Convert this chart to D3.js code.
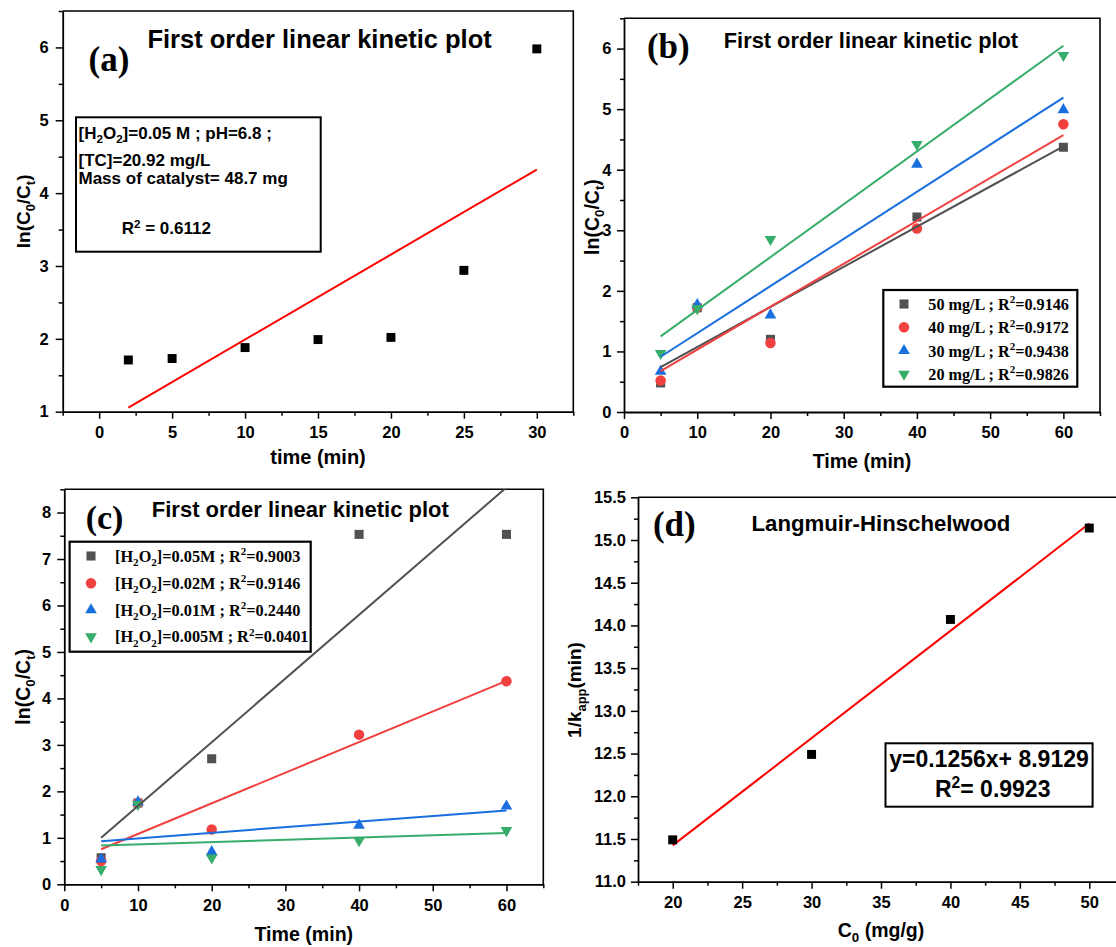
<!DOCTYPE html>
<html>
<head>
<meta charset="utf-8">
<script src="https://cdn.jsdelivr.net/npm/d3@7"></script>
<style>
  html, body { margin: 0; padding: 0; background: #fff; }
  svg { display: block; }
</style>
</head>
<body>
<svg id="fig" width="1116" height="947"></svg>
<script>
// ---------------- data ----------------
// (a) single run, [H2O2]=0.05 M
const timeA = [2, 5, 10, 15, 20, 25, 30];
const lnA   = [1.71, 1.73, 1.88, 1.99, 2.02, 2.94, 5.98];
const xTicksA = [0, 5, 10, 15, 20, 25, 30];
const yTicksA = [1, 2, 3, 4, 5, 6];

// (b) initial TC concentration series
const timeB = [5, 10, 20, 40, 60];
const concLabelsB = ["50 mg/L", "40 mg/L", "30 mg/L", "20 mg/L"];
const r2B   = ["0.9146", "0.9172", "0.9438", "0.9826"];
const lnB50 = [0.48, 1.72, 1.20, 3.22, 4.37];
const lnB40 = [0.52, 1.73, 1.14, 3.03, 4.75];
const lnB30 = [0.67, 1.77, 1.60, 4.09, 4.99];
const lnB20 = [0.97, 1.71, 2.85, 4.42, 5.89];
const xTicksB = [0, 10, 20, 30, 40, 50, 60];
const yTicksB = [0, 1, 2, 3, 4, 5, 6];

// (c) H2O2 dose series
const timeC = [5, 10, 20, 40, 60];
const doseLabelsC = ["0.05M", "0.02M", "0.01M", "0.005M"];
const r2C    = ["0.9003", "0.9146", "0.2440", "0.0401"];
const lnC050 = [0.57, 1.75, 2.70, 7.53, 7.53];
const lnC020 = [0.50, 1.75, 1.18, 3.22, 4.37];
const lnC010 = [0.54, 1.77, 0.70, 1.27, 1.68];
const lnC005 = [0.32, 1.72, 0.57, 0.94, 1.16];
const xTicksC = [0, 10, 20, 30, 40, 50, 60];
const yTicksC = [0, 1, 2, 3, 4, 5, 6, 7, 8];

// (d) Langmuir-Hinshelwood linearisation
const c0D   = [20, 30, 40, 50];
const invKD = [11.49, 12.49, 14.07, 15.14];
const slopeD = 0.1256;
const interceptD = 8.9129;
const r2D = "0.9923";
const xTicksD = [20, 25, 30, 35, 40, 45, 50];
const yTicksD = [11.0, 11.5, 12.0, 12.5, 13.0, 13.5, 14.0, 14.5, 15.0, 15.5];

// ---------------- style ----------------
const SANS  = "'Liberation Sans', Arial, Helvetica, sans-serif";
const SERIF = "'Liberation Serif', 'Times New Roman', Times, serif";
const seriesColors = ["#515151", "#F14040", "#1A6FDF", "#37AD6B"];
const seriesShapes = ["square", "circle", "up", "down"];

const svg = d3.select("#fig");
const defs = svg.append("defs");

// ---------------- helpers ----------------
// text with _{sub} and ^{sup} markup rendered as tspans
function rich(sel, str, size) {
  const re = /([_^])\{([^}]*)\}/g;
  const parts = [];
  let last = 0, m;
  while ((m = re.exec(str)) !== null) {
    if (m.index > last) parts.push({ t: str.slice(last, m.index), k: "" });
    parts.push({ t: m[2], k: m[1] });
    last = re.lastIndex;
  }
  if (last < str.length) parts.push({ t: str.slice(last), k: "" });
  let cur = 0;
  parts.forEach(p => {
    const target = p.k === "_" ? 0.28 * size : p.k === "^" ? -0.4 * size : 0;
    const ts = sel.append("tspan").text(p.t);
    if (target !== cur) ts.attr("dy", (target - cur).toFixed(2));
    if (p.k) ts.attr("font-size", (size * 0.68).toFixed(1));
    cur = target;
  });
  return sel;
}

function label(x, y, str, size, opts = {}) {
  const t = svg.append("text")
    .attr("x", x).attr("y", y)
    .attr("font-family", opts.family || SANS)
    .attr("font-weight", "bold")
    .attr("font-size", size)
    .attr("text-anchor", opts.anchor || "start")
    .attr("fill", "#000");
  if (opts.rotate) t.attr("transform", `rotate(-90,${x},${y})`);
  return rich(t, str, size);
}

function symbolPath(shape, s) {
  if (shape === "square") return d3.symbol(d3.symbolSquare, s)();
  if (shape === "circle") return d3.symbol(d3.symbolCircle, s * 1.05)();
  return d3.symbol(d3.symbolTriangle, s * 0.72)();
}
function drawSymbol(g, shape, cx, cy, color, size) {
  g.append("path")
    .attr("d", symbolPath(shape, size))
    .attr("transform", `translate(${cx},${cy})` + (shape === "down" ? " rotate(180)" : ""))
    .attr("fill", color);
}

function linFit(xs, ys) {
  const n = xs.length;
  const mx = d3.mean(xs), my = d3.mean(ys);
  let sxy = 0, sxx = 0;
  for (let i = 0; i < n; i++) { sxy += (xs[i] - mx) * (ys[i] - my); sxx += (xs[i] - mx) ** 2; }
  const m = sxy / sxx;
  return { m, b: my - m * mx };
}

let clipCount = 0;
function makePanel(p) {
  const x = d3.scaleLinear().domain(p.xDomain).range([p.left, p.right]);
  const y = d3.scaleLinear().domain(p.yDomain).range([p.bottom, p.top]);
  const g = svg.append("g");
  const id = "clip" + (clipCount++);
  defs.append("clipPath").attr("id", id).append("rect")
    .attr("x", p.left).attr("y", p.top)
    .attr("width", p.right - p.left).attr("height", p.bottom - p.top);

  const style = s => s.attr("font-family", SANS).attr("font-weight", "bold")
    .attr("font-size", p.tickFont).call(a => a.selectAll("line").attr("stroke-width", 1.5));

  // minor ticks
  g.append("g").attr("transform", `translate(0,${p.bottom})`)
    .call(d3.axisBottom(x).tickValues(p.xMinor).tickSize(4).tickFormat("").tickSizeOuter(0))
    .call(s => s.select(".domain").remove()).call(style);
  g.append("g").attr("transform", `translate(${p.left},0)`)
    .call(d3.axisLeft(y).tickValues(p.yMinor).tickSize(4).tickFormat("").tickSizeOuter(0))
    .call(s => s.select(".domain").remove()).call(style);

  // major ticks with labels
  g.append("g").attr("transform", `translate(0,${p.bottom})`)
    .call(d3.axisBottom(x).tickValues(p.xMajor).tickSize(7).tickPadding(p.xPad).tickFormat(p.xFmt).tickSizeOuter(0))
    .call(style).call(s => s.select(".domain").attr("stroke-width", 1.8));
  g.append("g").attr("transform", `translate(${p.left},0)`)
    .call(d3.axisLeft(y).tickValues(p.yMajor).tickSize(7).tickPadding(p.yPad).tickFormat(p.yFmt).tickSizeOuter(0))
    .call(style).call(s => s.select(".domain").attr("stroke-width", 1.8));
  g.selectAll(".tick text").attr("fill", "#000");

  // top / right frame
  g.append("path")
    .attr("d", `M${p.left},${p.top}H${p.right}V${p.bottom}`)
    .attr("fill", "none").attr("stroke", "#000").attr("stroke-width", 1.6);

  const plot = g.append("g").attr("clip-path", `url(#${id})`);
  return { x, y, g, plot };
}

function fitLine(P, xs, ys, color, fit) {
  const f = fit || linFit(xs, ys);
  const x0 = d3.min(xs), x1 = d3.max(xs);
  P.plot.append("line")
    .attr("x1", P.x(x0)).attr("y1", P.y(f.m * x0 + f.b))
    .attr("x2", P.x(x1)).attr("y2", P.y(f.m * x1 + f.b))
    .attr("stroke", color).attr("stroke-width", 2);
}

function minorRange(a, b, step) { return d3.range(a, b + 1e-9, step); }

// ---------------- (a) ----------------
{
  const P = makePanel({
    left: 62.7, right: 573.3, top: 11, bottom: 411.7,
    xDomain: [-2.5, 32.5], yDomain: [1, 6.5],
    xMajor: xTicksA, yMajor: yTicksA,
    xMinor: minorRange(-2.5, 32.5, 5), yMinor: minorRange(1.5, 6.5, 1),
    xFmt: d3.format("d"), yFmt: d3.format("d"),
    tickFont: 16.5, xPad: 7.5, yPad: 7
  });
  timeA.forEach((t, i) => drawSymbol(P.g, "square", P.x(t), P.y(lnA[i]), "#000", 80));
  fitLine(P, timeA, lnA, "#FF0000");

  label(319.6, 48, "First order linear kinetic plot", 25.5, { anchor: "middle" });
  label(88.6, 71, "(a)", 35, { family: SERIF });

  svg.append("rect").attr("x", 76).attr("y", 117.3).attr("width", 244.7).attr("height", 134.4)
    .attr("fill", "none").attr("stroke", "#000").attr("stroke-width", 2);
  label(78.5, 138.5, "[H_{2}O_{2}]=0.05 M ; pH=6.8 ;", 17);
  label(78.5, 165.5, "[TC]=20.92 mg/L", 17);
  label(78.5, 184.3, "Mass of catalyst= 48.7 mg", 17);
  label(121.7, 234.3, "R^{2} = 0.6112", 17);

  label(30, 211.4, "ln(C_{0}/C_{t})", 19, { anchor: "middle", rotate: true });
  label(318, 464, "time (min)", 20, { anchor: "middle" });
}

// ---------------- (b) ----------------
{
  const P = makePanel({
    left: 624, right: 1100, top: 18.3, bottom: 412,
    xDomain: [0, 65], yDomain: [0, 6.5],
    xMajor: xTicksB, yMajor: yTicksB,
    xMinor: minorRange(5, 65, 10), yMinor: minorRange(0.5, 6.5, 1),
    xFmt: d3.format("d"), yFmt: d3.format("d"),
    tickFont: 16.5, xPad: 7.5, yPad: 5.5
  });
  const series = [lnB50, lnB40, lnB30, lnB20];
  series.forEach((ys, k) => {
    timeB.forEach((t, i) => drawSymbol(P.plot, seriesShapes[k], P.x(t), P.y(ys[i]), seriesColors[k], 82));
  });
  series.forEach((ys, k) => fitLine(P, timeB, ys, seriesColors[k]));

  label(646.9, 57.5, "(b)", 35, { family: SERIF });
  label(723.8, 48.3, "First order linear kinetic plot", 21.8);

  svg.append("rect").attr("x", 883.3).attr("y", 290).attr("width", 194).attr("height", 96.7)
    .attr("fill", "#fff").attr("stroke", "#000").attr("stroke-width", 2.2);
  const rowsB = [304, 327.3, 350.7, 374];
  concLabelsB.forEach((lab, k) => {
    drawSymbol(svg, seriesShapes[k], 904, rowsB[k], seriesColors[k], 82);
    label(928.3, rowsB[k] + 5.8, `${lab} ; R^{2}=${r2B[k]}`, 16.2, { family: SERIF });
  });

  label(599, 217, "ln(C_{0}/C_{t})", 19.5, { anchor: "middle", rotate: true });
  label(862, 468, "Time (min)", 19.6, { anchor: "middle" });
}

// ---------------- (c) ----------------
{
  const P = makePanel({
    left: 64.3, right: 543.3, top: 489.3, bottom: 884.3,
    xDomain: [0, 65], yDomain: [0, 8.5],
    xMajor: xTicksC, yMajor: yTicksC,
    xMinor: minorRange(5, 65, 10), yMinor: minorRange(0.5, 8.5, 1),
    xFmt: d3.format("d"), yFmt: d3.format("d"),
    tickFont: 16.5, xPad: 8, yPad: 6
  });
  const series = [lnC050, lnC020, lnC010, lnC005];
  series.forEach((ys, k) => {
    timeC.forEach((t, i) => drawSymbol(P.plot, seriesShapes[k], P.x(t), P.y(ys[i]), seriesColors[k], 82));
  });
  series.forEach((ys, k) => fitLine(P, timeC, ys, seriesColors[k]));

  label(85.7, 529, "(c)", 34, { family: SERIF });
  label(151.8, 516.7, "First order linear kinetic plot", 22);

  svg.append("rect").attr("x", 69.6).attr("y", 541.7).attr("width", 241.1).attr("height", 110)
    .attr("fill", "#fff").attr("stroke", "#000").attr("stroke-width", 2.2);
  const rowsC = [556, 583.3, 610, 636.7];
  doseLabelsC.forEach((lab, k) => {
    drawSymbol(svg, seriesShapes[k], 91, rowsC[k], seriesColors[k], 82);
    label(115, rowsC[k] + 5.5, `[H_{2}O_{2}]=${lab} ; R^{2}=${r2C[k]}`, 16.3, { family: SERIF });
  });

  label(30, 686.8, "ln(C_{0}/C_{t})", 19.5, { anchor: "middle", rotate: true });
  label(303.8, 941, "Time (min)", 19.6, { anchor: "middle" });
}

// ---------------- (d) ----------------
{
  const P = makePanel({
    left: 638, right: 1124, top: 497.3, bottom: 881.7,
    xDomain: [17.5, 52.5], yDomain: [11, 15.5],
    xMajor: xTicksD, yMajor: yTicksD,
    xMinor: minorRange(17.5, 52.5, 5), yMinor: minorRange(11.25, 15.25, 0.5),
    xFmt: d3.format("d"), yFmt: d3.format(".1f"),
    tickFont: 16.5, xPad: 7.5, yPad: 5
  });
  c0D.forEach((c, i) => drawSymbol(P.g, "square", P.x(c), P.y(invKD[i]), "#000", 80));
  fitLine(P, c0D, invKD, "#FF0000", { m: slopeD, b: interceptD });

  label(652.9, 536, "(d)", 35, { family: SERIF });
  label(751.5, 530.7, "Langmuir-Hinschelwood", 22.2);

  svg.append("rect").attr("x", 885.5).attr("y", 743.3).attr("width", 207.1).attr("height", 63.4)
    .attr("fill", "#fff").attr("stroke", "#000").attr("stroke-width", 2);
  label(989, 767.3, `y=${slopeD}x+ ${interceptD}`, 23, { anchor: "middle" });
  label(992.7, 796.7, `R^{2}= ${r2D}`, 23, { anchor: "middle" });

  label(581, 690, "1/k_{app}(min)", 19, { anchor: "middle", rotate: true });
  label(881, 937, "C_{0} (mg/g)", 19.5, { anchor: "middle" });
}
</script>
</body>
</html>
